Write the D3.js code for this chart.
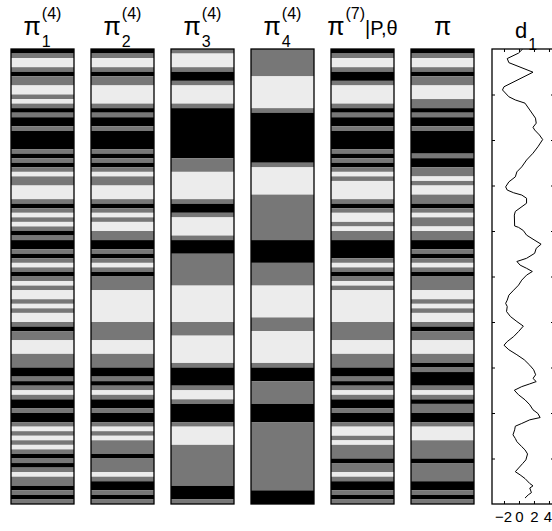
<!DOCTYPE html>
<html>
<head>
<meta charset="utf-8">
<script src="https://cdn.jsdelivr.net/npm/d3@7"></script>
<style>
  body { margin: 0; background: #fff; }
  text { font-family: "Liberation Sans", Arial, sans-serif; fill: #000; }
</style>
</head>
<body>
<svg id="chart" width="552" height="531"></svg>
<script>
// state per time step: 0 = black, 1 = gray, 2 = light
let pi1 = [0,1,2,2,1,0,1,1,2,2, 1,2,1,0,1,0,0,1,0,0, 0,0,1,0,1,0,1,2,1,1, 2,2,2,1,0,1,2,1,2,1,
           0,1,0,0,1,0,1,2,1,0, 1,2,1,2,2,1,2,1,2,2, 1,0,1,1,2,2,2,1,1,1, 0,0,1,0,1,2,1,0,0,1,
           0,0,1,2,1,2,1,2,1,0, 1,0,1,2,1,1,0,1,0,1]
let pi2 = [0,1,2,2,1,0,1,1,2,2, 2,2,1,0,1,0,0,1,0,0, 0,0,1,0,1,0,1,2,1,1, 2,2,2,1,0,1,2,1,2,2,
           1,1,0,0,1,0,1,2,1,0, 1,1,1,2,2,2,2,2,2,2, 1,1,1,1,2,2,2,1,1,1, 0,0,1,0,1,2,1,0,0,1,
           0,0,1,2,1,2,1,1,1,0, 1,1,1,2,1,0,0,1,0,1]
let pi3 = [1,2,2,2,1,0,0,1,2,2, 2,2,1,0,0,0,0,0,0,0, 0,0,0,0,1,1,1,2,2,2, 2,2,2,1,0,0,1,2,2,2,
           2,1,0,0,0,1,1,1,1,1, 1,1,2,2,2,2,2,2,2,2, 1,1,1,2,2,2,2,2,2,1, 0,0,0,0,1,2,2,1,0,0,
           0,0,1,2,2,2,2,1,1,1, 1,1,1,1,1,1,0,0,0,1]
let pi4 = [1,1,1,1,1,1,2,2,2,2, 2,2,2,1,0,0,0,0,0,0, 0,0,0,0,0,1,2,2,2,2, 2,2,1,1,1,1,1,1,1,1,
           1,1,0,0,0,0,0,1,1,1, 1,1,2,2,2,2,2,2,2,1, 1,1,2,2,2,2,2,2,2,1, 0,0,0,1,1,1,1,1,0,0,
           0,0,1,1,1,1,1,1,1,1, 1,1,1,1,1,1,1,0,0,0]
let pi7 = [0,1,2,2,1,0,0,1,2,2, 2,2,1,0,1,0,0,1,0,0, 0,0,1,0,1,0,1,2,1,2, 2,2,2,1,0,1,2,2,1,2,
           1,1,0,0,0,0,1,2,1,0, 1,2,1,2,2,2,2,2,2,2, 1,1,1,1,2,2,2,1,1,1, 0,0,1,0,1,2,1,0,0,1,
           0,0,1,2,2,1,2,1,1,1, 0,1,1,2,1,0,0,1,0,1]
let piTrue = [0,1,2,2,1,0,1,1,2,2, 2,1,1,0,1,0,0,1,0,0, 0,0,0,1,0,0,1,1,2,1, 2,2,1,1,0,1,2,1,1,2,
              1,1,0,0,1,0,1,2,1,0, 1,1,1,2,2,1,2,1,2,2, 1,0,1,1,2,2,2,1,1,0, 1,0,0,0,1,2,1,0,1,1,
              0,0,1,2,2,2,1,1,1,1, 0,1,1,1,1,0,0,1,0,1]

// d1 trace: time position and value
let d1T = [0,0.9,2.1,3,5.1,8.3,9,10.5,11.2,11.9,13.4,15.2,16.3,17.2,17.8,18.9,19.9,21.5,22.9,24.4,
           25.9,27,28.1,29.2,30.3,31,31.6,32.1,32.8,33.9,35.7,36.5,38.9,39.2,39.9,40.9,41.8,42.9,43.8,44.9,
           46,46.7,47.5,48.2,48.9,49.7,50.8,51.9,53,54.1,55.2,55.9,56.6,57.7,58.8,59.9,60.9,62.1,63.2,64.3,
           65.1,66.1,67.2,68.3,69.5,70.5,71.6,72.4,73.1,73.6,74.2,75,76,77.1,78.2,79.3,80.1,81,81.5,82.3,
           82.9,83.7,84.8,85.6,86.3,87.4,88.1,89,90.3,91.1,92.9,93.6,94.4,95.5,96,96.5,97.5,98,98.7]
let d1V = [0.49,-0.06,-1.57,-1.35,1.87,-2.0,-2.2,-1.35,-0.49,0.8,1.44,2.2,2.3,1.87,2.09,2.73,3.16,2.52,1.87,1.01,
           0.37,-0.28,-0.49,-1.35,-1.78,-1.57,-0.71,0.37,1.01,1.01,-0.49,-0.62,-0.58,-0.06,0.58,1.01,1.87,2.95,2.3,2.09,
           1.01,-0.28,0.15,1.01,1.78,1.01,0.37,-0.06,-0.71,-1.35,-1.57,-1.78,-1.57,-1.66,-1.14,-0.28,0.58,-0.06,-0.71,-1.57,
           -2.0,-1.35,-0.28,0.7,1.44,1.96,2.22,1.87,2.3,1.44,0.37,-0.62,-0.06,0.8,1.44,1.87,2.52,2.82,1.44,0.37,
           -0.49,-0.58,-0.8,-0.49,-0.28,0.37,0.8,1.14,0.92,0.49,-0.49,0.15,0.8,1.44,1.87,1.44,1.66,1.23,0.8]

let columns = ['pi1', 'pi2', 'pi3', 'pi4', 'pi7', 'pi']
let series = [pi1, pi2, pi3, pi4, pi7, piTrue]
let titles = [
  {base: 'π', sub: '1', sup: '(4)'},
  {base: 'π', sub: '2', sup: '(4)'},
  {base: 'π', sub: '3', sup: '(4)'},
  {base: 'π', sub: '4', sup: '(4)'},
  {base: 'π', sup: '(7)', after: '|P,θ'},
  {base: 'π'}
]
let d1Title = {base: 'd', sub: '1'}
let xTicks = [-2, 0, 2, 4]
let stateColors = ['#000000', '#777777', '#ececec']

const svg = d3.select('#chart')
const yTop = 49, yBottom = 504

let x = d3.scaleBand().domain(columns).range([11, 474]).paddingInner(17 / 80)
let y = d3.scaleLinear().domain([0, 100]).range([yTop, yBottom])
let color = d3.scaleOrdinal().domain([0, 1, 2]).range(stateColors)

// collapse each state sequence into runs
function runs(seq) {
  let out = []
  seq.forEach((s, i) => {
    let last = out[out.length - 1]
    if (last && last.s === s) last.end = i + 1
    else out.push({s: s, start: i, end: i + 1})
  })
  return out
}

const col = svg.selectAll('g.col')
  .data(columns)
  .join('g')
    .attr('class', 'col')
    .attr('transform', d => `translate(${x(d)},0)`)

col.selectAll('rect.band')
  .data((d, i) => runs(series[i]))
  .join('rect')
    .attr('class', 'band')
    .attr('x', 0)
    .attr('width', x.bandwidth())
    .attr('y', d => y(d.start))
    .attr('height', d => y(d.end) - y(d.start))
    .attr('fill', d => color(d.s))

col.append('rect')
  .attr('x', 0).attr('y', yTop)
  .attr('width', x.bandwidth()).attr('height', yBottom - yTop)
  .attr('fill', 'none').attr('stroke', '#000').attr('stroke-width', 1.3)

// titles with sub / superscripts
function drawTitle(t, cx, baseY, baseSize) {
  let g = svg.append('g')
  let b = g.append('text').attr('x', 0).attr('y', baseY).style('font-size', baseSize + 'px').text(t.base)
  let w = b.node().getComputedTextLength()
  let w2 = 0
  if (t.sup) {
    let s = g.append('text').attr('x', w + 1).attr('y', baseY - 16).style('font-size', '16px').text(t.sup)
    w2 = Math.max(w2, s.node().getComputedTextLength() + 1)
  }
  if (t.sub) {
    let s = g.append('text').attr('x', w + 1).attr('y', baseY + 12).style('font-size', '16px').text(t.sub)
    w2 = Math.max(w2, s.node().getComputedTextLength() + 1)
  }
  let total = w + w2
  if (t.after) {
    let a = g.append('text').attr('x', w + w2).attr('y', baseY).style('font-size', '20px').text(t.after)
    total += a.node().getComputedTextLength()
  }
  g.attr('transform', `translate(${cx - total / 2},0)`)
}
columns.forEach((c, i) => drawTitle(titles[i], x(c) + x.bandwidth() / 2, 35, 25))

// d1 panel
let xd = d3.scaleLinear().domain([-3.6, 4.67]).range([492, 554])
let pts = d1T.map((t, i) => ({t: t, v: d1V[i]}))

svg.append('clipPath').attr('id', 'clip')
  .append('rect').attr('x', 492).attr('y', yTop).attr('width', 62).attr('height', yBottom - yTop)

svg.append('path')
  .datum(pts)
  .attr('clip-path', 'url(#clip)')
  .attr('fill', 'none')
  .attr('stroke', '#000')
  .attr('stroke-width', 1)
  .attr('d', d3.line().x(d => xd(d.v)).y(d => y(d.t)))

svg.append('rect')
  .attr('x', 492).attr('y', yTop).attr('width', 62).attr('height', yBottom - yTop)
  .attr('fill', 'none').attr('stroke', '#000').attr('stroke-width', 1.3)

let yTicks = d3.range(10, 100, 10)
svg.append('g').attr('transform', `translate(492,0)`)
  .call(d3.axisLeft(y).tickValues(yTicks).tickSize(-3).tickFormat(''))
  .call(g => g.select('.domain').remove())
svg.append('g').attr('transform', `translate(554,0)`)
  .call(d3.axisRight(y).tickValues(yTicks).tickSize(-3).tickFormat(''))
  .call(g => g.select('.domain').remove())
svg.append('g').attr('transform', `translate(0,${yTop})`)
  .call(d3.axisTop(xd).tickValues(xTicks).tickSize(-3).tickFormat(''))
  .call(g => g.select('.domain').remove())
svg.append('g').attr('transform', `translate(0,${yBottom})`)
  .call(d3.axisBottom(xd).tickValues(xTicks).tickSize(-3).tickPadding(7).tickFormat(d => d < 0 ? '−' + (-d) : d))
  .call(g => g.select('.domain').remove())
  .call(g => g.selectAll('text')
    .style('font-size', '15px')
    .style('font-family', '"Liberation Sans", Arial, sans-serif')
    .attr('dx', d => d === 4 ? -1.5 : (d === -2 ? -1 : 0)))

drawTitle(d1Title, 526, 38, 22)
</script>
</body>
</html>
